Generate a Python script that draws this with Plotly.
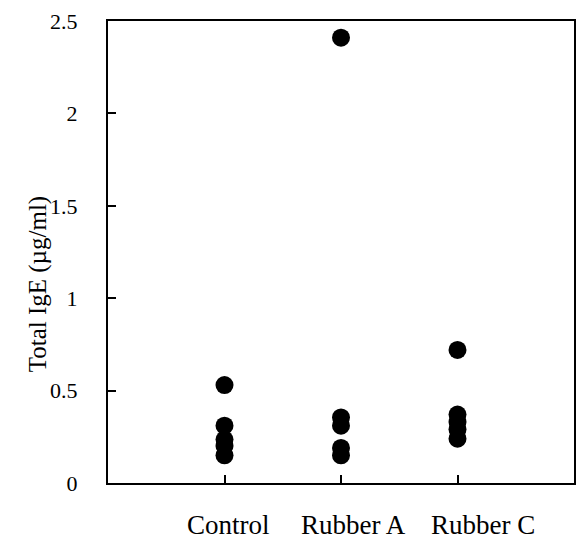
import plotly.graph_objects as go

categories = ["Control", "Rubber A", "Rubber C"]
control_vals = [0.53, 0.31, 0.235, 0.2, 0.15]
rubber_a_vals = [2.41, 0.355, 0.31, 0.19, 0.15]
rubber_c_vals = [0.72, 0.37, 0.33, 0.29, 0.24]
y_tick_vals = [0, 0.5, 1, 1.5, 2, 2.5]
y_tick_text = ["0", "0.5", "1", "1.5", "2", "2.5"]

series = [control_vals, rubber_a_vals, rubber_c_vals]

FONT = "Liberation Serif"

fig = go.Figure()
for i, vals in enumerate(series):
    fig.add_trace(go.Scatter(
        x=[i] * len(vals), y=vals, mode="markers",
        marker=dict(size=18, color="black", line=dict(width=0)),
        showlegend=False, hoverinfo="y",
    ))

label_shift = [0.03, 0.11, 0.22]
for i, name in enumerate(categories):
    fig.add_annotation(
        x=i + label_shift[i], xref="x", y=0, yref="paper",
        yshift=-42, text=name, showarrow=False,
        font=dict(family=FONT, size=27, color="black"),
        xanchor="center", yanchor="middle",
    )

fig.add_annotation(
    x=0, xref="paper", xshift=-70, y=0.43, yref="paper",
    text="Total IgE (µg/ml)", textangle=-90, showarrow=False,
    font=dict(family=FONT, size=25, color="black"),
    xanchor="center", yanchor="middle",
)

fig.update_layout(
    width=579, height=543,
    margin=dict(l=108, r=3, t=21, b=60),
    paper_bgcolor="white", plot_bgcolor="white",
    font=dict(family=FONT, size=22, color="black"),
)
fig.update_xaxes(
    range=[-1, 3], tickvals=[0, 1, 2], ticktext=["", "", ""],
    ticks="inside", ticklen=8, tickwidth=2, tickcolor="black",
    showline=True, linewidth=2, linecolor="black", mirror=True,
    showgrid=False, zeroline=False, fixedrange=True,
)
fig.update_yaxes(
    range=[0, 2.5], tickvals=y_tick_vals, ticktext=y_tick_text,
    ticks="inside", ticklen=8, tickwidth=2, tickcolor="black",
    ticklabelstandoff=24,
    showline=True, linewidth=2, linecolor="black", mirror=True,
    showgrid=False, zeroline=False,
    tickfont=dict(family=FONT, size=22, color="black"),
)

fig.write_html(
    "out.html",
    config={"displayModeBar": False},
    post_script="document.body.style.margin='0';document.body.style.overflow='hidden';",
)
